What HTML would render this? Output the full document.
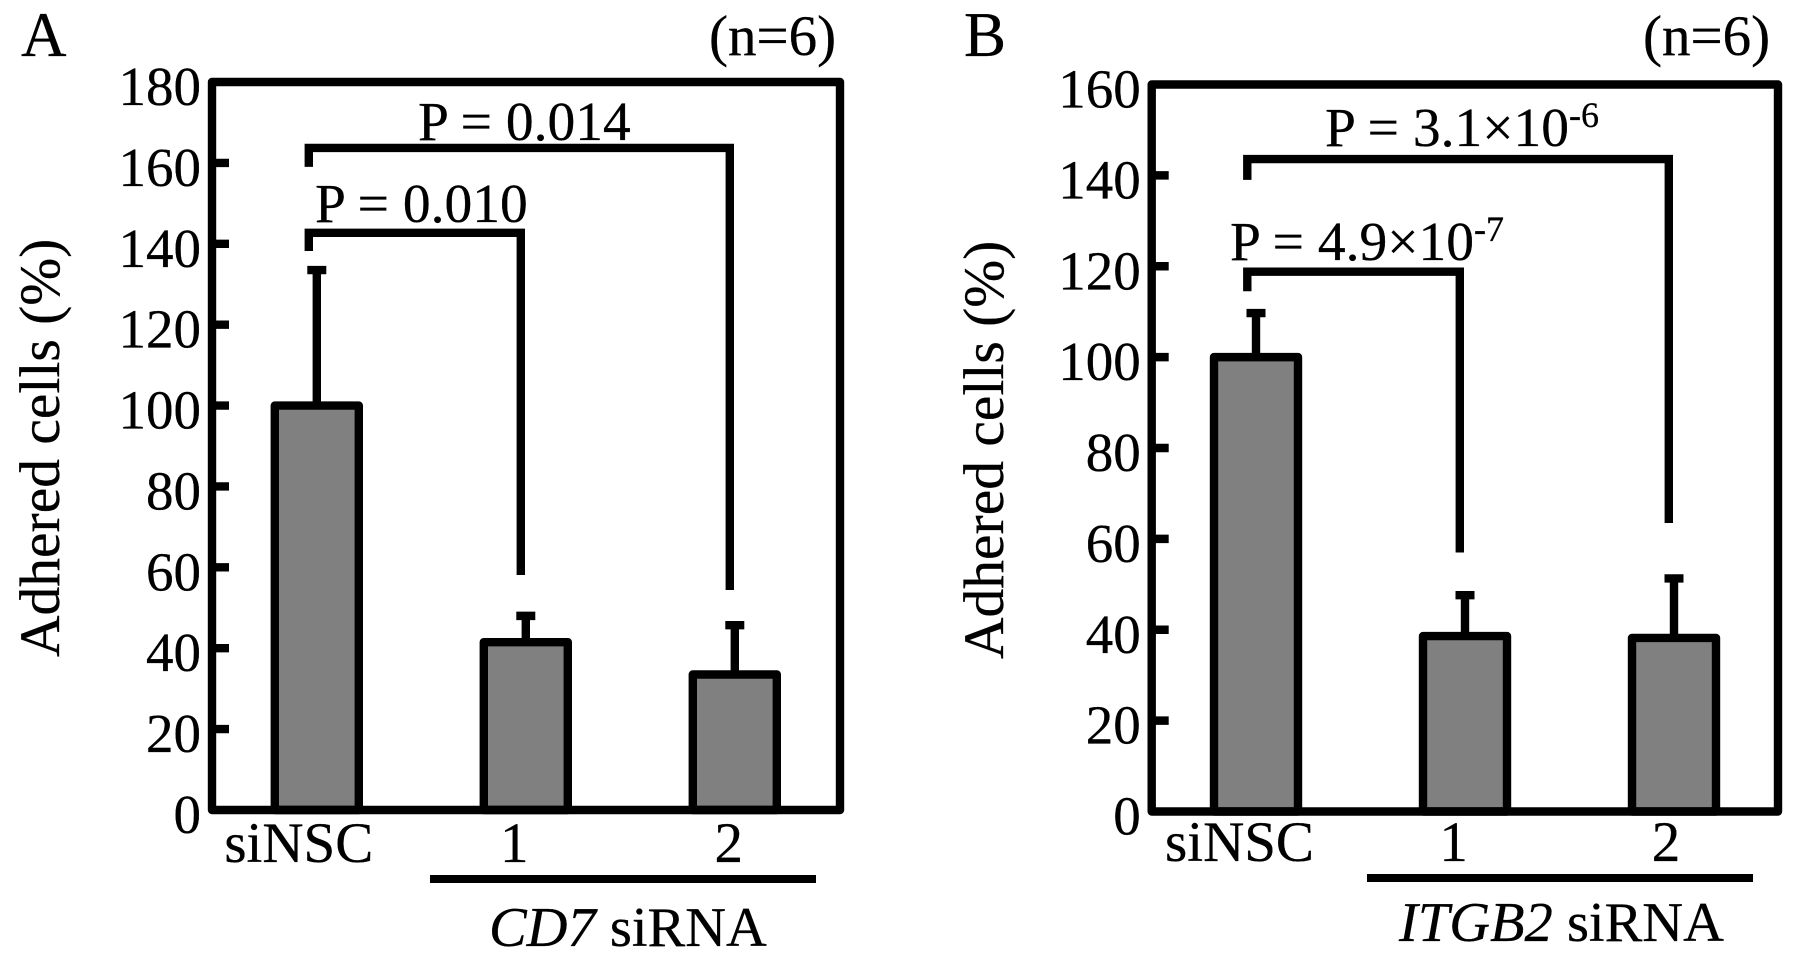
<!DOCTYPE html>
<html lang="en">
<head>
<meta charset="utf-8">
<title>Adhered cells after siRNA knockdown</title>
<style>
  html, body { margin: 0; padding: 0; background: #fff; }
  svg { display: block; }
  text { font-family: "Liberation Serif", serif; fill: #000; font-size: 55.5px; stroke: #000; stroke-width: 0.3px; }
</style>
</head>
<body>
<svg id="chart" xmlns="http://www.w3.org/2000/svg" width="1795" height="961" viewBox="0 0 1795 961">
  <rect x="0" y="0" width="1795" height="961" fill="#fff"/>
  <g id="panel-a">
    <text x="21" y="56" style="font-size:63px">A</text>
    <text x="709" y="55" style="font-size:57px">(n=6)</text>
    <text transform="translate(59,657) rotate(-90)" style="font-size:57.5px">Adhered cells (%)</text>
    <text x="418" y="140">P = 0.014</text>
    <text x="315" y="222">P = 0.010</text>
    <rect x="430" y="875" width="386" height="8" fill="#000"/>
    <text x="489" y="946" style="font-size:56.5px"><tspan font-style="italic">CD7</tspan> siRNA</text>
  </g>
  <g id="panel-b">
    <text x="964" y="56" style="font-size:63px">B</text>
    <text x="1643" y="55" style="font-size:57px">(n=6)</text>
    <text transform="translate(1003,659) rotate(-90)" style="font-size:57.5px">Adhered cells (%)</text>
    <text x="1325" y="146">P = 3.1×10<tspan font-size="36" dy="-19">-6</tspan></text>
    <text x="1230" y="260">P = 4.9×10<tspan font-size="36" dy="-19">-7</tspan></text>
    <rect x="1367" y="874" width="386" height="8" fill="#000"/>
    <text x="1399" y="941" style="font-size:56.5px"><tspan font-style="italic">ITGB2</tspan> siRNA</text>
  </g>
</svg>
<script>
// Panel A data
const categoriesA = ['siNSC', '1', '2'];
const valuesA = [100, 41.5, 33.5];
const errorsA = [33.5, 6.5, 12.2];
const ticksA = [0, 20, 40, 60, 80, 100, 120, 140, 160, 180];
// Comparison brackets: [bar level, left-leg end, right-leg end] in axis units
const bracketLowerA = [142.7, 138.2, 58.1];
const bracketUpperA = [163.7, 159, 54.4];

// Panel B data
const categoriesB = ['siNSC', '1', '2'];
const valuesB = [100, 38.6, 38.2];
const errorsB = [9.7, 9.0, 13.1];
const ticksB = [0, 20, 40, 60, 80, 100, 120, 140, 160];
const bracketLowerB = [118.8, 114.5, 57];
const bracketUpperB = [143.6, 139, 63.5];

const NS = 'http://www.w3.org/2000/svg';

function addShape(parent, tag, props, name) {
  const el = document.createElementNS(NS, tag);
  Object.keys(props).forEach(function (k) { el.setAttribute(k, props[k]); });
  
  
  parent.appendChild(el);
  return el;
}

function drawPanel(cfg) {
  const g = document.getElementById(cfg.id);
  const y = function (v) { return cfg.bottom - (v - cfg.min) * (cfg.bottom - cfg.top) / (cfg.max - cfg.min); };
  const x = function (i) { return cfg.firstX + i * cfg.stepX; };
  const sw = 8.4;

  // bars
  cfg.values.forEach(function (v, i) {
    const top = y(v);
    addShape(g, 'rect', {
      x: x(i) - cfg.barW / 2, y: top, width: cfg.barW, height: cfg.bottom - top,
      fill: '#808080', stroke: '#000', 'stroke-width': sw, 'stroke-linejoin': 'round'
    }, cfg.prefix + '-bar-' + i);
    const capY = y(v + cfg.errors[i]);
    addShape(g, 'line', { x1: x(i), y1: top, x2: x(i), y2: capY, stroke: '#000', 'stroke-width': sw }, cfg.prefix + '-error-stem-' + i);
    addShape(g, 'line', { x1: x(i) - 9.5, y1: capY, x2: x(i) + 9.5, y2: capY, stroke: '#000', 'stroke-width': sw }, cfg.prefix + '-error-cap-' + i);
    const label = addShape(g, 'text', { x: x(i) + cfg.labelNudge[i], y: cfg.labelBaseline, 'text-anchor': 'middle' }, cfg.prefix + '-x-label-' + i);
    label.style.fontSize = '57px';
    label.textContent = cfg.categories[i];
  });

  // frame
  addShape(g, 'rect', {
    x: cfg.left, y: cfg.top, width: cfg.right - cfg.left, height: cfg.bottom - cfg.top,
    fill: 'none', stroke: '#000', 'stroke-width': sw, 'stroke-linejoin': 'round'
  }, cfg.prefix + '-plot-frame');

  // ticks
  cfg.ticks.forEach(function (t) {
    if (t !== cfg.min && t !== cfg.max) {
      addShape(g, 'line', { x1: cfg.left, y1: y(t), x2: cfg.left + 17, y2: y(t), stroke: '#000', 'stroke-width': sw }, cfg.prefix + '-y-tick-' + t);
    }
    const tl = addShape(g, 'text', { x: cfg.left - 11, y: y(t) + 23, 'text-anchor': 'end' }, cfg.prefix + '-y-tick-label-' + t);
    tl.style.fontSize = '55px';
    tl.textContent = String(t);
  });

  // brackets
  cfg.brackets.forEach(function (b, j) {
    const target = j + 1;
    const d = 'M' + (x(0) + cfg.legNudge) + ' ' + y(b[1]) +
      ' L' + (x(0) + cfg.legNudge) + ' ' + y(b[0]) +
      ' L' + (x(target) + cfg.armNudge) + ' ' + y(b[0]) +
      ' L' + (x(target) + cfg.armNudge) + ' ' + y(b[2]);
    addShape(g, 'path', { d: d, fill: 'none', stroke: '#000', 'stroke-width': sw }, cfg.prefix + '-bracket-' + target);
  });
}

drawPanel({
  id: 'panel-a', prefix: 'panel-a',
  categories: categoriesA, values: valuesA, errors: errorsA, ticks: ticksA, brackets: [bracketLowerA, bracketUpperA],
  min: 0, max: 180, left: 212, right: 840, top: 82, bottom: 810,
  firstX: 316.8, stepX: 209, barW: 84,
  labelNudge: [-18, -11.6, -6], labelBaseline: 862, legNudge: -8, armNudge: -5
});

drawPanel({
  id: 'panel-b', prefix: 'panel-b',
  categories: categoriesB, values: valuesB, errors: errorsB, ticks: ticksB, brackets: [bracketLowerB, bracketUpperB],
  min: 0, max: 160, left: 1151.7, right: 1778, top: 84.5, bottom: 811.5,
  firstX: 1256, stepX: 209, barW: 84,
  labelNudge: [-16.5, -11.4, -8], labelBaseline: 861, legNudge: -8.7, armNudge: -5.2
});
</script>
</body>
</html>
